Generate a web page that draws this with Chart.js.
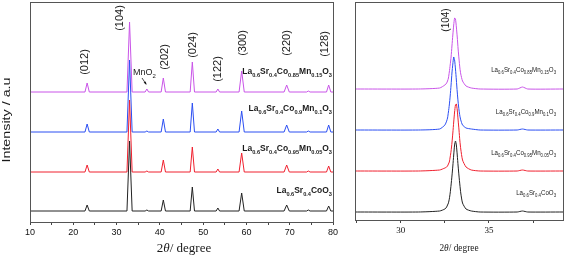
<!DOCTYPE html>
<html>
<head>
<meta charset="utf-8">
<script src="https://cdn.jsdelivr.net/npm/chart.js@4/dist/chart.umd.min.js"></script>
<style>
    body { margin: 0; background: #fff; }
    #wrap { position: relative; width: 567px; height: 259px; }
    canvas { position: absolute; top: 0; }
</style>
</head>
<body>
<div id="wrap">
    <canvas id="fullPattern" width="345" height="259" style="left:0"></canvas>
    <canvas id="peakZoom" width="222" height="259" style="left:345px"></canvas>
</div>
<script>
// samples, drawn in this order (first one ends up on top)
const sampleNames = [
    [['La', 0], ['0.6', 1], ['Sr', 0], ['0.4', 1], ['CoO', 0], ['3', 1]],
    [['La', 0], ['0.6', 1], ['Sr', 0], ['0.4', 1], ['Co', 0], ['0.95', 1], ['Mn', 0], ['0.05', 1], ['O', 0], ['3', 1]],
    [['La', 0], ['0.6', 1], ['Sr', 0], ['0.4', 1], ['Co', 0], ['0.9', 1], ['Mn', 0], ['0.1', 1], ['O', 0], ['3', 1]],
    [['La', 0], ['0.6', 1], ['Sr', 0], ['0.4', 1], ['Co', 0], ['0.85', 1], ['Mn', 0], ['0.15', 1], ['O', 0], ['3', 1]],
];
const sampleColors = ['#222222', '#f0202e', '#2b4ef2', '#c954e8'];

// full pattern, 2theta 10-80
const fullAngles = [10, 22.7, 23.2, 23.7, 32.4, 33.0, 33.6, 36.6, 37.0, 37.4, 40.3, 40.8, 41.3, 47.0, 47.5, 48.0,
    53.0, 53.4, 53.8, 58.3, 58.9, 59.5, 68.7, 69.3, 69.9, 73.9, 74.3, 74.7, 78.5, 79.0, 79.5, 80];
const fullBlack  = [0, 0, 6, 0, 0, 70, 0, 0, 1, 0, 0, 11, 0, 0, 24, 0, 0, 3, 0, 0, 18, 0, 0, 6, 0, 0, 1, 0, 0, 5, 0, 0];
const fullRed    = [0, 0, 7, 0, 0, 72, 0, 0, 1, 0, 0, 12, 0, 0, 25, 0, 0, 3, 0, 0, 19, 0, 0, 7, 0, 0, 1, 0, 0, 6, 0, 0];
const fullBlue   = [0, 0, 8, 0, 0, 72, 0, 0, 1, 0, 0, 13, 0, 0, 29, 0, 0, 3, 0, 0, 21, 0, 0, 7, 0, 0, 1, 0, 0, 7, 0, 0];
const fullPurple = [0, 0, 9, 0, 0, 70, 0, 0, 3, 0, 0, 14, 0, 0, 30, 0, 0, 3, 0, 0, 21, 0, 0, 7, 0, 0, 1, 0, 0, 7, 0, 0];
const fullOffsets = [11, 50, 90, 130];
const fullTicks = [10, 15, 20, 25, 30, 35, 40, 45, 50, 55, 60, 65, 70, 75, 80];

const peakLabels = ['(012)', '(104)', '(202)', '(024)', '(122)', '(300)', '(220)', '(128)'];
const peakLabelAngles = [23.2, 33.0, 40.8, 47.5, 53.4, 58.9, 69.3, 79.0];

// zoom on the (104) reflection
const zoomAngles = [27.4, 31.0, 32.2, 32.5, 32.6, 32.65, 32.7, 32.75, 32.8, 32.85, 32.9, 32.95, 33.0, 33.05, 33.1,
    33.15, 33.2, 33.25, 33.3, 33.35, 33.4, 33.5, 33.7, 34.0, 34.5, 36.6, 36.9, 37.2, 39.2];
const zoomBlack  = [0, 0, 1, 3, 5, 7, 9, 13, 19, 27, 36, 46, 57, 67, 71, 67, 57, 46, 36, 27, 19, 9, 3, 1, 0, 0, 1, 0, 0];
const zoomRed    = [0, 0, 1, 3, 4, 5, 7, 9, 14, 20, 28, 38, 49, 59, 66, 67, 61, 51, 41, 30, 22, 11, 4, 1, 0, 0, 1, 0, 0];
const zoomBlue   = [0, 0, 1, 5, 9, 12, 18, 25, 34, 45, 57, 66, 73, 70, 61, 50, 38, 28, 20, 14, 10, 5, 2, 1, 0, 0, 1, 0, 0];
const zoomPurple = [0, 0, 1, 4, 6, 8, 11, 17, 24, 32, 43, 54, 64, 71, 70, 62, 52, 40, 30, 21, 15, 8, 3, 1, 0, 0, 2, 0, 0];
const zoomOffsets = [8, 49, 90, 131];
const zoomTicks = [27.5, 30, 32.5, 35, 37.5];

const SANS = 'Arial, "Liberation Sans", sans-serif';
const SERIF = '"Times New Roman", "Liberation Serif", serif';

// parts: [text, kind] with kind 0 = normal, 1 = subscript, 2 = italic
function drawRich(ctx, parts, x, y, opt) {
    const weight = opt.weight || 'normal';
    const family = opt.family || SANS;
    const stretch = opt.stretch || 1;
    const fontFor = (kind) => {
        if (kind === 1) return `${weight} ${opt.sub}px ${family}`;
        if (kind === 2) return `italic ${weight} ${opt.size}px ${family}`;
        return `${weight} ${opt.size}px ${family}`;
    };
    let width = 0;
    parts.forEach(([text, kind]) => {
        ctx.font = fontFor(kind);
        width += ctx.measureText(text).width * stretch;
    });
    let cx = x;
    if (opt.align === 'right') cx = x - width;
    if (opt.align === 'center') cx = x - width / 2;
    ctx.save();
    ctx.fillStyle = opt.color || '#1a1a1a';
    ctx.textBaseline = 'alphabetic';
    ctx.textAlign = 'left';
    parts.forEach(([text, kind]) => {
        ctx.font = fontFor(kind);
        ctx.save();
        ctx.translate(cx, kind === 1 ? y + opt.size * 0.3 : y);
        ctx.scale(stretch, 1);
        ctx.fillText(text, 0, 0);
        ctx.restore();
        cx += ctx.measureText(text).width * stretch;
    });
    ctx.restore();
}

const framePlugin = {
    id: 'frame',
    afterDraw(chart) {
        const { ctx, chartArea: a } = chart;
        ctx.save();
        ctx.strokeStyle = '#555';
        ctx.lineWidth = 1;
        ctx.strokeRect(Math.round(a.left) + 0.5, Math.round(a.top) + 0.5,
            Math.round(a.right - a.left), Math.round(a.bottom - a.top));
        ctx.restore();
    },
};

const fullLabelsPlugin = {
    id: 'fullLabels',
    afterDraw(chart) {
        const { ctx } = chart;
        const x = chart.scales.x;
        const labelY = [62, 18, 57, 45, 69, 43, 43, 44];
        const labelShift = [-2, -10, 2, 1, 0, 1, 0, -4];
        ctx.save();
        ctx.fillStyle = '#1a1a1a';
        ctx.font = `11px ${SANS}`;
        ctx.textAlign = 'center';
        ctx.textBaseline = 'middle';
        peakLabels.forEach((text, i) => {
            ctx.save();
            ctx.translate(x.getPixelForValue(peakLabelAngles[i]) + labelShift[i], labelY[i]);
            ctx.rotate(-Math.PI / 2);
            ctx.fillText(text, 0, 0);
            ctx.restore();
        });

        // MnO2 marker with small arrow
        drawRich(ctx, [['MnO', 0], ['2', 1]], 133, 75, { size: 9, sub: 6 });
        ctx.strokeStyle = '#1a1a1a';
        ctx.lineWidth = 0.8;
        ctx.beginPath();
        ctx.moveTo(142, 78);
        ctx.lineTo(146, 84);
        ctx.stroke();
        ctx.beginPath();
        ctx.moveTo(146.5, 85);
        ctx.lineTo(143.6, 82.6);
        ctx.lineTo(145.8, 81.4);
        ctx.closePath();
        ctx.fillStyle = '#1a1a1a';
        ctx.fill();

        const nameY = [193, 151, 111, 74];
        sampleNames.forEach((parts, i) => {
            drawRich(ctx, parts, 332, nameY[i], { size: 9, sub: 6, weight: 'bold', align: 'right', stretch: 0.94 });
        });

        drawRich(ctx, [['2', 0], ['θ', 2], ['/ degree', 0]], 184, 252, { size: 13, family: SERIF, align: 'center' });

        ctx.translate(7, 120);
        ctx.rotate(-Math.PI / 2);
        ctx.scale(1.3, 1);
        ctx.font = `11px ${SANS}`;
        ctx.textAlign = 'center';
        ctx.textBaseline = 'middle';
        ctx.fillStyle = '#1a1a1a';
        ctx.fillText('Intensity / a.u', 0, 0);
        ctx.restore();
    },
};

const zoomLabelsPlugin = {
    id: 'zoomLabels',
    afterDraw(chart) {
        const { ctx } = chart;
        ctx.save();
        ctx.fillStyle = '#1a1a1a';
        ctx.font = `10px ${SANS}`;
        ctx.textAlign = 'center';
        ctx.textBaseline = 'middle';
        ctx.translate(chart.scales.x.getPixelForValue(32.6), 20);
        ctx.rotate(-Math.PI / 2);
        ctx.fillText('(104)', 0, 0);
        ctx.restore();

        const nameY = [195, 155, 114, 72];
        sampleNames.forEach((parts, i) => {
            drawRich(ctx, parts, 211, nameY[i], { size: 8, sub: 5.5, align: 'right', stretch: 0.77 });
        });

        drawRich(ctx, [['2', 0], ['θ', 2], ['/ degree', 0]], 114, 251, { size: 11, family: SERIF, align: 'center', stretch: 0.85 });
    },
};

function makeDatasets(angles, series, offsets, tension) {
    return series.map((values, i) => ({
        data: angles.map((angle, j) => ({ x: angle, y: values[j] + offsets[i] })),
        borderColor: sampleColors[i],
        borderWidth: 1,
        pointRadius: 0,
        tension: tension,
        fill: false,
    }));
}

function xAxis(min, max, ticks, labelled, font) {
    return {
        type: 'linear',
        min: min,
        max: max,
        afterBuildTicks: (axis) => { axis.ticks = ticks.map((value) => ({ value })); },
        afterFit: (axis) => { axis.height = 16; },
        ticks: {
            autoSkip: false,
            maxRotation: 0,
            padding: 2,
            color: '#111',
            font: font,
            callback: (value) => (labelled.includes(value) ? String(value) : ''),
        },
        grid: {
            drawOnChartArea: false,
            tickLength: 3,
            color: '#444',
        },
        border: { display: false },
    };
}

function baseOptions(padding, x, yMax) {
    return {
        responsive: false,
        animation: false,
        events: [],
        layout: { padding: padding },
        plugins: {
            legend: { display: false },
            tooltip: { enabled: false },
        },
        scales: {
            x: x,
            y: { display: false, min: 0, max: yMax },
        },
    };
}

new Chart(document.getElementById('fullPattern'), {
    type: 'line',
    data: { datasets: makeDatasets(fullAngles, [fullBlack, fullRed, fullBlue, fullPurple], fullOffsets, 0) },
    options: baseOptions(
        { left: 30, right: 12, top: 2, bottom: 21 },
        xAxis(10, 80, fullTicks, [10, 20, 30, 40, 50, 60, 70, 80], { family: SANS, size: 9 }),
        220,
    ),
    plugins: [framePlugin, fullLabelsPlugin],
});

new Chart(document.getElementById('peakZoom'), {
    type: 'line',
    data: { datasets: makeDatasets(zoomAngles, [zoomBlack, zoomRed, zoomBlue, zoomPurple], zoomOffsets, 0.2) },
    options: baseOptions(
        { left: 10, right: 4, top: 2, bottom: 23 },
        xAxis(27.4, 39.2, zoomTicks, [30, 35], { family: SERIF, size: 9 }),
        218,
    ),
    plugins: [framePlugin, zoomLabelsPlugin],
});
</script>
</body>
</html>
